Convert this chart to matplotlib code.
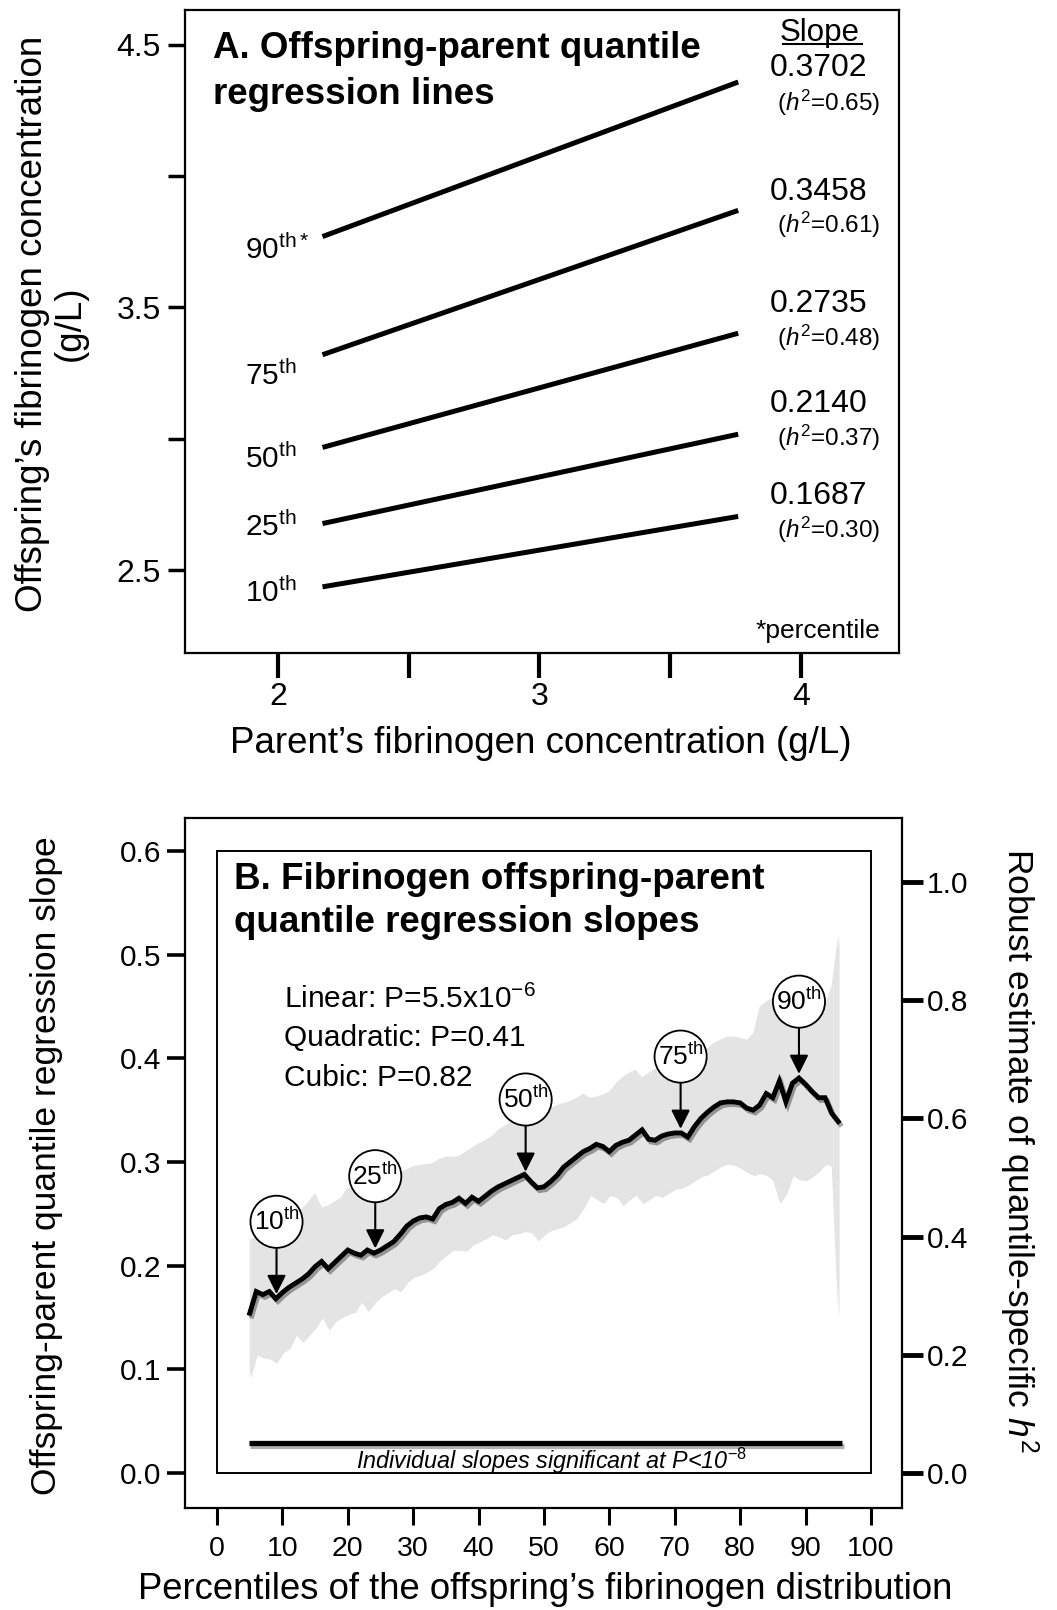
import numpy as np
import matplotlib
matplotlib.use("Agg")
import matplotlib.pyplot as plt
import matplotlib.patheffects as pe
from matplotlib import font_manager
from matplotlib.patches import Rectangle

plt.rcParams['font.family'] = ['Liberation Sans', 'DejaVu Sans']
plt.rcParams['mathtext.fontset'] = 'custom'
plt.rcParams['mathtext.rm'] = 'Liberation Sans'
plt.rcParams['mathtext.it'] = 'Liberation Sans:italic'
plt.rcParams['mathtext.bf'] = 'Liberation Sans:bold'

names = {f.name for f in font_manager.fontManager.ttflist}
if 'Liberation Sans Narrow' in names:
    narrow, nscale = 'Liberation Sans Narrow', 1.0
else:
    narrow, nscale = 'Liberation Sans', 0.82

# ---- panel A data: quantile regression lines ----
pct_names = ['10', '25', '50', '75', '90']
slopes = [0.1687, 0.2140, 0.2735, 0.3458, 0.3702]
h2_vals = ['0.30', '0.37', '0.48', '0.61', '0.65']
x_from, x_to = 2.17, 3.76
y_from = [2.436, 2.677, 2.967, 3.320, 3.770]

# ---- panel B data: slope by percentile ----
pctl = np.arange(5, 96)
slope_q = [0.154, 0.175, 0.172, 0.175, 0.168, 0.174, 0.179, 0.183, 0.187, 0.192,
           0.199, 0.204, 0.197, 0.203, 0.209, 0.215, 0.212, 0.210, 0.215, 0.212,
           0.215, 0.219, 0.223, 0.230, 0.238, 0.243, 0.246, 0.247, 0.245, 0.255,
           0.259, 0.261, 0.265, 0.260, 0.266, 0.262, 0.267, 0.272, 0.276, 0.279,
           0.282, 0.285, 0.288, 0.281, 0.275, 0.276, 0.281, 0.287, 0.295, 0.300,
           0.305, 0.310, 0.313, 0.317, 0.315, 0.310, 0.316, 0.319, 0.321, 0.326,
           0.331, 0.322, 0.321, 0.325, 0.327, 0.328, 0.328, 0.324, 0.334, 0.342,
           0.348, 0.353, 0.357, 0.358, 0.358, 0.357, 0.352, 0.350, 0.355, 0.366,
           0.362, 0.378, 0.358, 0.376, 0.381, 0.375, 0.368, 0.362, 0.362, 0.347,
           0.339]
upper = [0.225, 0.228, 0.232, 0.236, 0.240, 0.243, 0.247, 0.250, 0.255, 0.262,
         0.270, 0.256, 0.258, 0.262, 0.266, 0.276, 0.272, 0.278, 0.282, 0.280,
         0.284, 0.286, 0.288, 0.290, 0.293, 0.296, 0.297, 0.298, 0.299, 0.303,
         0.305, 0.305, 0.306, 0.310, 0.314, 0.318, 0.321, 0.325, 0.331, 0.335,
         0.339, 0.342, 0.345, 0.347, 0.348, 0.350, 0.352, 0.355, 0.357, 0.359,
         0.362, 0.366, 0.362, 0.363, 0.365, 0.368, 0.376, 0.382, 0.386, 0.389,
         0.382, 0.386, 0.390, 0.393, 0.397, 0.400, 0.402, 0.404, 0.405, 0.406,
         0.410, 0.415, 0.418, 0.421, 0.421, 0.420, 0.418, 0.424, 0.450, 0.455,
         0.458, 0.460, 0.462, 0.465, 0.466, 0.468, 0.465, 0.455, 0.452, 0.470,
         0.520]
lower = [0.093, 0.116, 0.113, 0.112, 0.108, 0.118, 0.122, 0.135, 0.128, 0.135,
         0.142, 0.152, 0.140, 0.148, 0.152, 0.155, 0.157, 0.167, 0.158, 0.166,
         0.172, 0.176, 0.180, 0.177, 0.186, 0.191, 0.193, 0.196, 0.200, 0.207,
         0.212, 0.217, 0.217, 0.216, 0.222, 0.225, 0.228, 0.232, 0.230, 0.227,
         0.232, 0.233, 0.235, 0.234, 0.226, 0.232, 0.236, 0.238, 0.240, 0.244,
         0.248, 0.258, 0.270, 0.266, 0.262, 0.270, 0.268, 0.260, 0.266, 0.270,
         0.262, 0.266, 0.270, 0.268, 0.272, 0.276, 0.277, 0.280, 0.284, 0.288,
         0.290, 0.294, 0.298, 0.300, 0.299, 0.296, 0.292, 0.289, 0.291, 0.289,
         0.284, 0.262, 0.272, 0.289, 0.285, 0.284, 0.288, 0.293, 0.300, 0.298,
         0.151]
mark_names = ['10', '25', '50', '75', '90']
mark_x = [9.1, 24.2, 47.2, 70.9, 89.0]
h2_per_slope = 1.754   # right axis scale relative to left

fig = plt.figure(figsize=(10.57, 16.10), dpi=100)

# ================= Panel A =================
axA = fig.add_axes([0.175, 0.5944, 0.6755, 0.3994])
for s in axA.spines.values():
    s.set_linewidth(1.6)
axA.set_xlim(1.644, 4.375)
axA.set_ylim(2.184, 4.633)
axA.set_xticks([2, 3, 4])
axA.set_xticks([2.5, 3.5], minor=True)
axA.set_yticks([2.5, 3.5, 4.5])
axA.set_yticks([3.0, 4.0], minor=True)
axA.tick_params(axis='x', which='both', direction='out', length=18, width=3,
                labelsize=23, pad=3)
axA.tick_params(axis='y', which='both', direction='out', length=12.5, width=2.5,
                labelsize=23, pad=5)

for i in range(len(slopes)):
    axA.plot([x_from, x_to], [y_from[i], y_from[i] + slopes[i] * (x_to - x_from)],
             color='black', lw=3.6, solid_capstyle='butt')

left_y = [2.412, 2.664, 2.923, 3.239, 3.719]
for i, name in enumerate(pct_names):
    suffix = r'$^{\mathrm{th}*}$' if name == '90' else r'$^{\mathrm{th}}$'
    axA.text(1.874, left_y[i], name + suffix, fontsize=21.5, ha='left', va='center')

val_y = [2.782, 3.132, 3.513, 3.940, 4.412]
h2_y = [2.652, 3.003, 3.384, 3.814, 4.279]
for i in range(len(slopes)):
    axA.text(3.881, val_y[i], f'{slopes[i]:.4f}', fontsize=23, ha='left', va='center')
    axA.text(4.302, h2_y[i], f'($h^2$={h2_vals[i]})', fontsize=17.5, ha='right', va='center')
axA.text(4.073, 4.546, 'Slope', fontsize=22.5, ha='center', va='center')
axA.plot([3.93, 4.235], [4.505, 4.505], color='black', lw=1.5)
axA.text(4.302, 2.268, '*percentile', fontsize=19, ha='right', va='center')

axA.text(1.751, 4.449, 'A. Offspring-parent quantile', fontsize=26.5,
         fontweight='bold', ha='left', va='baseline')
axA.text(1.751, 4.275, 'regression lines', fontsize=26.5,
         fontweight='bold', ha='left', va='baseline')

fig.text(0.0487, 0.799, 'Offspring\u2019s fibrinogen concentration\n(g/L)',
         rotation=90, ha='center', va='center', fontsize=26.5,
         multialignment='center', linespacing=1.1)
fig.text(0.512, 0.538, 'Parent\u2019s fibrinogen concentration (g/L)',
         ha='center', va='center', fontsize=26.5)

# ================= Panel B =================
axB = fig.add_axes([0.175, 0.0634, 0.678, 0.4286])
for s in axB.spines.values():
    s.set_linewidth(1.6)
axB.set_xlim(-4.9, 104.7)
axB.set_ylim(-0.0338, 0.632)
axB.set_xticks(np.arange(0, 101, 10))
axB.set_yticks(np.arange(0, 0.61, 0.1))
axB.set_yticklabels([f'{v:.1f}' for v in np.arange(0, 0.61, 0.1)])
axB.tick_params(axis='x', direction='out', length=12.5, width=2.2,
                labelsize=25 * nscale, pad=8)
for lab in axB.get_xticklabels():
    lab.set_family(narrow)
axB.tick_params(axis='y', direction='out', length=13, width=2.6,
                labelsize=21.5, pad=4)

axR = axB.twinx()
axR.set_ylim(-0.0338 * h2_per_slope, 0.632 * h2_per_slope)
axR.set_yticks(np.arange(0, 1.01, 0.2))
axR.set_yticklabels([f'{v:.1f}' for v in np.arange(0, 1.01, 0.2)])
axR.tick_params(axis='y', direction='out', length=15, width=3.5,
                labelsize=21.5, pad=3)
for s in axR.spines.values():
    s.set_visible(False)

axB.add_patch(Rectangle((0, 0), 100, 0.6, fill=False, ec='black', lw=1.4, zorder=2))

axB.fill_between(pctl, lower, upper, color='#e4e4e4', lw=0, zorder=1,
                 path_effects=[pe.SimplePatchShadow(offset=(1, -2), alpha=0.15),
                               pe.Normal()])
axB.plot(pctl, slope_q, color='black', lw=3.5, zorder=3,
         solid_joinstyle='miter',
         path_effects=[pe.SimpleLineShadow(offset=(1.5, -2), alpha=0.35), pe.Normal()])

for name, mx in zip(mark_names, mark_x):
    tip = np.interp(mx, pctl, slope_q) + 0.004
    axB.annotate(name + r'$^{\mathrm{th}}$', xy=(mx, tip), xytext=(0, 52),
                 textcoords='offset points', ha='center', va='center', fontsize=19,
                 bbox=dict(boxstyle='circle,pad=0.12', fc='white', ec='black', lw=1.3),
                 arrowprops=dict(arrowstyle='-|>,head_length=0.6,head_width=0.3',
                                 color='black', lw=1.5, shrinkA=0, shrinkB=0),
                 zorder=5)

axB.plot([pctl[0] - 0.1, pctl[-1] + 0.6], [0.029, 0.029], color='black', lw=3.8,
         solid_capstyle='butt', zorder=3,
         path_effects=[pe.SimpleLineShadow(offset=(1, -2), alpha=0.3), pe.Normal()])
axB.text(51.2, 0.004, r'Individual slopes significant at P<10$^{\it{-8}}$',
         fontsize=20.5 * nscale, family=narrow, fontstyle='italic',
         ha='center', va='baseline', zorder=4)

axB.text(2.6, 0.563, 'B. Fibrinogen offspring-parent', fontsize=26.5,
         fontweight='bold', ha='left', va='baseline')
axB.text(2.6, 0.522, 'quantile regression slopes', fontsize=26.5,
         fontweight='bold', ha='left', va='baseline')

axB.text(10.3, 0.449, r'Linear: P=5.5x10$^{-6}$', fontsize=21.5, ha='left', va='baseline')
axB.text(10.3, 0.4116, 'Quadratic: P=0.41', fontsize=21.5, ha='left', va='baseline')
axB.text(10.3, 0.3736, 'Cubic: P=0.82', fontsize=21.5, ha='left', va='baseline')

fig.text(0.0436, 0.2758, 'Offspring-parent quantile regression slope',
         rotation=90, ha='center', va='center', fontsize=25.5)
fig.text(0.964, 0.2855, 'Robust estimate of quantile-specific $h^2$',
         rotation=270, ha='center', va='center', fontsize=25.5)
fig.text(0.516, 0.0125, 'Percentiles of the offspring\u2019s fibrinogen distribution',
         ha='center', va='center', fontsize=32 * nscale, family=narrow)

fig.savefig('out.png', dpi=100)
